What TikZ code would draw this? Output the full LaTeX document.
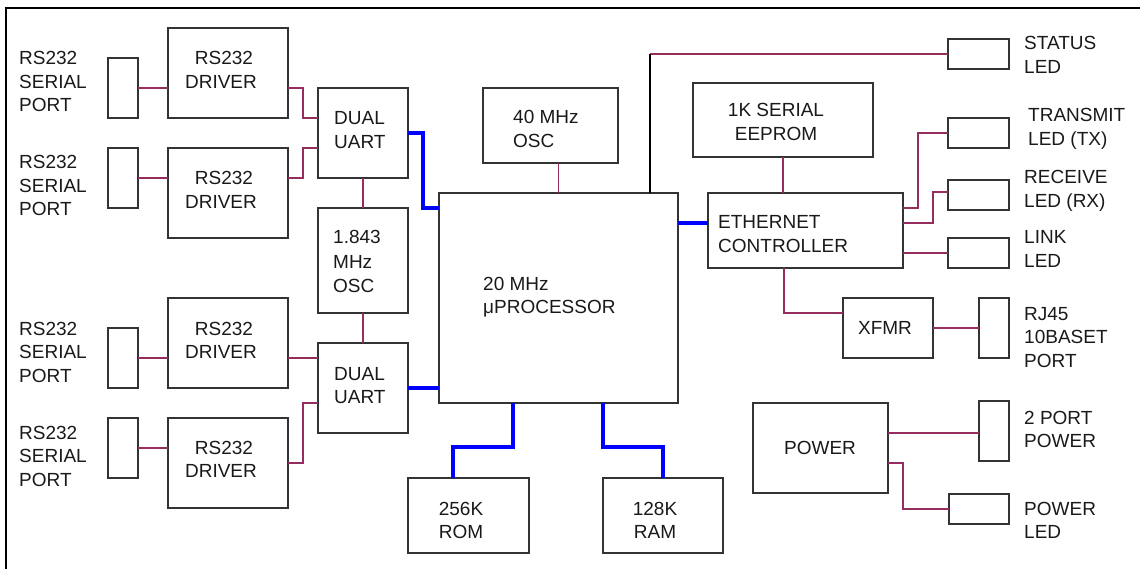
\documentclass[tikz,border=0pt]{standalone}
\usepackage{fontspec}
\setmainfont{Liberation Sans}
\definecolor{wirec}{RGB}{150,45,95}
\definecolor{busc}{RGB}{0,0,255}
\tikzset{
  bx/.style={draw=black!80, line width=1.1pt, inner sep=0pt, outer sep=0pt, anchor=north west},
  txt/.style={inner sep=0pt, font=\fontsize{19}{23.5}\selectfont, text=black!90},
  wire/.style={draw=wirec, line width=1.1pt},
  bus/.style={draw=busc, line width=3.2pt},
  blk/.style={draw=black, line width=1.8pt},
}
\newcommand\bbox[5]{\node[bx, minimum width=#4pt, minimum height=#5pt] (#1) at (#2,#3) {};}
\begin{document}
\begin{tikzpicture}[x=1pt,y=-1pt]
\useasboundingbox (0,0) rectangle (1140,569);
\clip (0,0) rectangle (1140,569);
\draw[line width=2pt] (5.5,8.5) rectangle (1160,590);
% left boxes
\bbox{p1}{108}{58}{30}{60}
\bbox{d1}{168}{28}{120}{90}
\bbox{p2}{108}{148}{30}{60}
\bbox{d2}{168}{148}{120}{90}
\bbox{u1}{318}{88}{90}{90}
\bbox{oscA}{318}{208}{90}{105}
\bbox{u2}{318}{343}{90}{90}
\bbox{d3}{168}{298}{120}{90}
\bbox{p3}{108}{328}{30}{60}
\bbox{d4}{168}{418}{120}{90}
\bbox{p4}{108}{418}{30}{60}
% center
\bbox{cpu}{439}{193}{239}{210}
\bbox{oscB}{483}{88}{135}{75}
\bbox{rom}{408}{478}{121}{75}
\bbox{ram}{603}{478}{120}{75}
% right
\bbox{eth}{708}{193}{195}{75}
\bbox{eep}{693}{83}{180}{74}
\bbox{sled}{948}{39}{61}{30}
\bbox{txled}{948}{118}{61}{30}
\bbox{rxled}{948}{180}{61}{30}
\bbox{lkled}{948}{238}{61}{30}
\bbox{xfmr}{843}{298}{90}{60}
\bbox{rj}{979}{298}{30}{60}
\bbox{pwr}{753}{403}{135}{90}
\bbox{pport}{979}{401}{30}{60}
\bbox{pled}{949}{494}{60}{30}
% texts (anchor = baseline of last line)
\node[txt, anchor=base west, align=left] (tp1) at (19,112) {RS232\\SERIAL\\PORT};
\node[txt, anchor=base west, align=left] (tp2) at (19,216) {RS232\\SERIAL\\PORT};
\node[txt, anchor=base west, align=left] (tp3) at (19,382) {RS232\\SERIAL\\PORT};
\node[txt, anchor=base west, align=left] (tp4) at (19,486) {RS232\\SERIAL\\PORT};
\node[txt, anchor=base, align=center] (td1) at (221,88.5) {\hspace*{6pt}RS232\\DRIVER};
\node[txt, anchor=base, align=center] (td2) at (221,208.5) {\hspace*{6pt}RS232\\DRIVER};
\node[txt, anchor=base, align=center] (td3) at (221,358.5) {\hspace*{6pt}RS232\\DRIVER};
\node[txt, anchor=base, align=center] (td4) at (221,477.5) {\hspace*{6pt}RS232\\DRIVER};
\node[txt, anchor=base west, align=left] (tu1) at (334,148.5) {DUAL\\UART};
\node[txt, anchor=base west, align=left] (tu2) at (334,403.5) {DUAL\\UART};
\node[txt, anchor=base west, align=left, font=\fontsize{19}{24.5}\selectfont] (toA) at (333,293) {1.843\\MHz\\OSC};
\node[txt, anchor=base west, align=left] (toB) at (513,147.5) {40 MHz\\OSC};
\node[txt, anchor=base west, align=left] (tcpu) at (483,313.5) {20 MHz\\μPROCESSOR};
\node[txt, anchor=base, align=center] (trom) at (461,538.5) {256K\\ROM};
\node[txt, anchor=base, align=center] (tram) at (655,538.5) {128K\\RAM};
\node[txt, anchor=base, align=center] (teep) at (776,140.5) {1K SERIAL\\EEPROM};
\node[txt, anchor=base west, align=left] (teth) at (718,252.5) {ETHERNET\\CONTROLLER};
\node[txt] (txf) at (885,328) {XFMR};
\node[txt] (tpw) at (820,448) {POWER};
\node[txt, anchor=base west, align=left] (ts) at (1024,73.5) {STATUS\\LED};
\node[txt, anchor=base west, align=left] (ttx) at (1028,145.5) {TRANSMIT\\LED (TX)};
\node[txt, anchor=base west, align=left] (trx) at (1024,207.5) {RECEIVE\\LED (RX)};
\node[txt, anchor=base west, align=left] (tlk) at (1024,267.5) {LINK\\LED};
\node[txt, anchor=base west, align=left] (trj) at (1024,367) {RJ45\\10BASET\\PORT};
\node[txt, anchor=base west, align=left] (tpp) at (1024,447.5) {2 PORT\\POWER};
\node[txt, anchor=base west, align=left] (tpl) at (1024,538.5) {POWER\\LED};
% wires left
\draw[wire] (p1.east) -- (p1.east -| d1.west);
\draw[wire] ([yshift=-15pt]d1.east) -- ++(15,0) |- ([yshift=15pt]u1.west);
\draw[wire] (p2.east) -- (p2.east -| d2.west);
\draw[wire] ([yshift=15pt]d2.east) -- ++(15,0) |- ([yshift=-15pt]u1.west);
\draw[wire] (u1.south) -- (oscA.north);
\draw[wire] (oscA.south) -- (u2.north);
\draw[wire] (p3.east) -- (p3.east -| d3.west);
\draw[wire] ([yshift=-15pt]d3.east) -- ([yshift=-15pt]d3.east -| u2.west);
\draw[wire] (p4.east) -- (p4.east -| d4.west);
\draw[wire] (d4.east) -- ++(15,0) |- ([yshift=-15pt]u2.west);
% buses
\draw[bus] (u1.east) -- ++(15,0) |- ([yshift=-15pt]cpu.north west);
\draw[bus] (u2.east) -- (u2.east -| cpu.west);
\draw[bus] ([yshift=7.5pt]eth.west) -- ([yshift=7.5pt]eth.west -| cpu.east);
\draw[bus] ([xshift=74pt]cpu.south west) -- ++(0,44) -| ([xshift=45pt]rom.north west);
\draw[bus] ([xshift=164pt]cpu.south west) -- ++(0,44) -| (ram.north);
% center wires
\draw[wire] (cpu.north) -- (cpu.north |- oscB.south);
\coordinate (k) at ([xshift=211pt]cpu.north west);
\draw[wire] (k |- sled.west) -- (sled.west);
\draw[blk] (k) -- (k |- sled.west);
\draw[wire] (eep.south) -- (eep.south |- eth.north);
% right wires
\draw[wire] ([yshift=22.5pt]eth.east) -- ++(15,0) |- (txled.west);
\draw[wire] ([yshift=7.5pt]eth.east) -- ++(30,0) |- ([yshift=3pt]rxled.west);
\draw[wire] (lkled.west) -- (lkled.west -| eth.east);
\draw[wire] ([xshift=-21.5pt]eth.south) |- ([yshift=15pt]xfmr.west);
\draw[wire] (xfmr.east) -- (rj.west);
\draw[wire] ([yshift=15pt]pwr.east) -- ([yshift=15pt]pwr.east -| pport.west);
\draw[wire] ([yshift=-15pt]pwr.east) -- ++(15,0) |- (pled.west);
\end{tikzpicture}
\end{document}
